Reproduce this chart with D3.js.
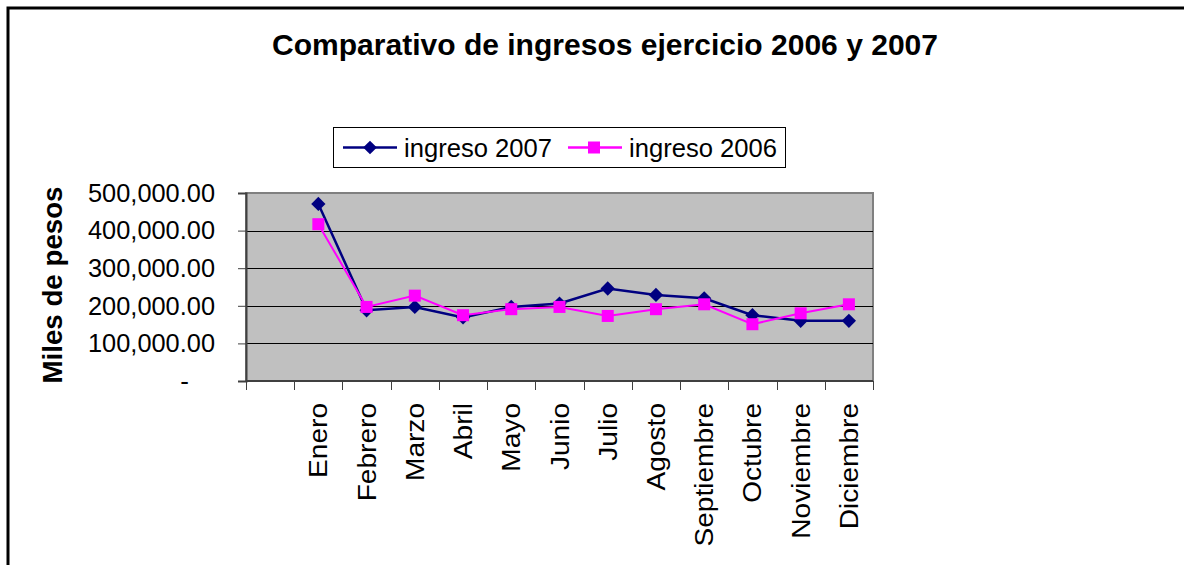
<!DOCTYPE html>
<html>
<head>
<meta charset="utf-8">
<script src="https://cdn.jsdelivr.net/npm/d3@7"></script>
<style>
  body { margin: 0; background: #fff; }
  svg { display: block; font-family: Arial, "Liberation Sans", sans-serif; }
</style>
</head>
<body>
<div id="chart"></div>
<script>
// Data
const months = ['Enero', 'Febrero', 'Marzo', 'Abril', 'Mayo', 'Junio', 'Julio',
  'Agosto', 'Septiembre', 'Octubre', 'Noviembre', 'Diciembre'];
const ingreso2007 = [471000, 188000, 197000, 169000, 197000, 206000, 246000,
  229000, 220000, 175000, 160000, 160000];
const ingreso2006 = [417000, 197000, 227000, 175000, 191000, 197000, 173000,
  191000, 204000, 151000, 180000, 204000];
const yTicks = [0, 100000, 200000, 300000, 400000, 500000];
const seriesNames = ['ingreso 2007', 'ingreso 2006'];

const width = 1184;
const height = 565;
const plot = {left: 246, top: 193, right: 873, bottom: 381};

const svg = d3.select('#chart').append('svg')
  .attr('width', width)
  .attr('height', height);

svg.append('rect')
  .attr('width', width)
  .attr('height', height)
  .attr('fill', '#fff');

// outer chart frame (runs off the right/bottom edge)
svg.append('rect')
  .attr('x', 8)
  .attr('y', 8)
  .attr('width', width + 20)
  .attr('height', height + 20)
  .attr('fill', 'none')
  .attr('stroke', '#000')
  .attr('stroke-width', 3);

// Title
svg.append('text')
  .attr('x', 605)
  .attr('y', 55)
  .attr('text-anchor', 'middle')
  .attr('font-size', '30px')
  .attr('font-weight', 'bold')
  .attr('textLength', 666)
  .attr('lengthAdjust', 'spacingAndGlyphs')
  .text('Comparativo de ingresos ejercicio 2006 y 2007');

// Scales: first band left blank, as in the original sheet
const xScale = d3.scaleBand()
  .domain([''].concat(months))
  .range([plot.left, plot.right]);

const yScale = d3.scaleLinear()
  .domain([0, 500000])
  .range([plot.bottom, plot.top]);

// Plot area
svg.append('rect')
  .attr('x', plot.left)
  .attr('y', plot.top)
  .attr('width', plot.right - plot.left)
  .attr('height', plot.bottom - plot.top)
  .attr('fill', '#C0C0C0')
  .attr('stroke', '#808080')
  .attr('stroke-width', 2);

// Gridlines
svg.append('g')
  .selectAll('line')
  .data(yTicks.filter(d => d > 0 && d < 500000))
  .enter().append('line')
  .attr('x1', plot.left)
  .attr('x2', plot.right)
  .attr('y1', d => Math.round(yScale(d)) + 0.5)
  .attr('y2', d => Math.round(yScale(d)) + 0.5)
  .attr('stroke', '#000')
  .attr('stroke-width', 1);

// Y axis
const yAxis = svg.append('g')
  .attr('transform', `translate(${plot.left},0)`)
  .call(d3.axisLeft(yScale)
    .tickValues(yTicks)
    .tickSize(8)
    .tickPadding(23)
    .tickFormat(d => d === 0 ? '-' : d3.format(',.2f')(d)));
yAxis.select('.domain')
  .attr('stroke', '#404040')
  .attr('stroke-width', 2);
yAxis.selectAll('.tick line').attr('stroke', '#404040');
yAxis.selectAll('text')
  .attr('fill', '#000')
  .attr('font-size', '26px')
  .attr('font-family', 'Arial, "Liberation Sans", sans-serif')
  .attr('textLength', d => d === 0 ? null : 127)
  .attr('lengthAdjust', 'spacingAndGlyphs')
  .attr('dx', d => d === 0 ? -26 : 0);

// Y axis title
svg.append('text')
  .attr('transform', `translate(62,${(plot.top + plot.bottom) / 2 - 2}) rotate(-90)`)
  .attr('text-anchor', 'middle')
  .attr('font-size', '27px')
  .attr('font-weight', 'bold')
  .attr('textLength', 197)
  .attr('lengthAdjust', 'spacingAndGlyphs')
  .text('Miles de pesos');

// X axis line and boundary ticks
svg.append('line')
  .attr('x1', plot.left)
  .attr('x2', plot.right)
  .attr('y1', plot.bottom)
  .attr('y2', plot.bottom)
  .attr('stroke', '#404040')
  .attr('stroke-width', 2);

const edges = xScale.domain().map(d => xScale(d)).concat([plot.right]);
svg.append('g')
  .selectAll('line')
  .data(edges)
  .enter().append('line')
  .attr('x1', d => Math.round(d) + 0.5)
  .attr('x2', d => Math.round(d) + 0.5)
  .attr('y1', plot.bottom)
  .attr('y2', plot.bottom + 9)
  .attr('stroke', '#404040')
  .attr('stroke-width', 1);

// X labels, vertical
const xAxis = svg.append('g')
  .attr('transform', `translate(0,${plot.bottom})`)
  .call(d3.axisBottom(xScale).tickSize(0).tickPadding(0));
xAxis.select('.domain').remove();
xAxis.selectAll('text')
  .attr('fill', '#000')
  .attr('font-size', '26px')
  .attr('font-family', 'Arial, "Liberation Sans", sans-serif')
  .attr('text-anchor', 'end')
  .attr('dy', null)
  .attr('transform', 'translate(9,22) rotate(-90) scale(1.08,1)');

// Series
const cx = (d, i) => xScale(months[i]) + xScale.bandwidth() / 2;
const line = d3.line()
  .x(cx)
  .y(d => yScale(d));

svg.append('path')
  .datum(ingreso2007)
  .attr('d', line)
  .attr('fill', 'none')
  .attr('stroke', '#000080')
  .attr('stroke-width', 2.5);

svg.append('g')
  .selectAll('path')
  .data(ingreso2007)
  .enter().append('path')
  .attr('d', d3.symbol(d3.symbolDiamond2, 130)())
  .attr('transform', (d, i) => `translate(${cx(d, i)},${yScale(d)})`)
  .attr('fill', '#000080');

svg.append('path')
  .datum(ingreso2006)
  .attr('d', line)
  .attr('fill', 'none')
  .attr('stroke', '#FF00FF')
  .attr('stroke-width', 2);

svg.append('g')
  .selectAll('rect')
  .data(ingreso2006)
  .enter().append('rect')
  .attr('x', (d, i) => cx(d, i) - 6)
  .attr('y', d => yScale(d) - 6)
  .attr('width', 12)
  .attr('height', 12)
  .attr('fill', '#FF00FF');

// Legend
const legend = svg.append('g');
legend.append('rect')
  .attr('x', 333.5)
  .attr('y', 127.5)
  .attr('width', 452)
  .attr('height', 40)
  .attr('fill', '#fff')
  .attr('stroke', '#000')
  .attr('stroke-width', 1);

const legendItems = [
  {name: seriesNames[0], color: '#000080', x: 343, marker: 'diamond'},
  {name: seriesNames[1], color: '#FF00FF', x: 568, marker: 'square'}
];

legendItems.forEach(item => {
  legend.append('line')
    .attr('x1', item.x)
    .attr('x2', item.x + 54)
    .attr('y1', 147.5)
    .attr('y2', 147.5)
    .attr('stroke', item.color)
    .attr('stroke-width', 2.5);
  if (item.marker === 'diamond') {
    legend.append('path')
      .attr('d', d3.symbol(d3.symbolDiamond2, 120)())
      .attr('transform', `translate(${item.x + 27},147.5)`)
      .attr('fill', item.color);
  } else {
    legend.append('rect')
      .attr('x', item.x + 20)
      .attr('y', 141.5)
      .attr('width', 12)
      .attr('height', 12)
      .attr('fill', item.color);
  }
  legend.append('text')
    .attr('x', item.x + 61)
    .attr('y', 157)
    .attr('font-size', '26px')
    .attr('textLength', 148)
    .attr('lengthAdjust', 'spacingAndGlyphs')
    .text(item.name);
});
</script>
</body>
</html>
